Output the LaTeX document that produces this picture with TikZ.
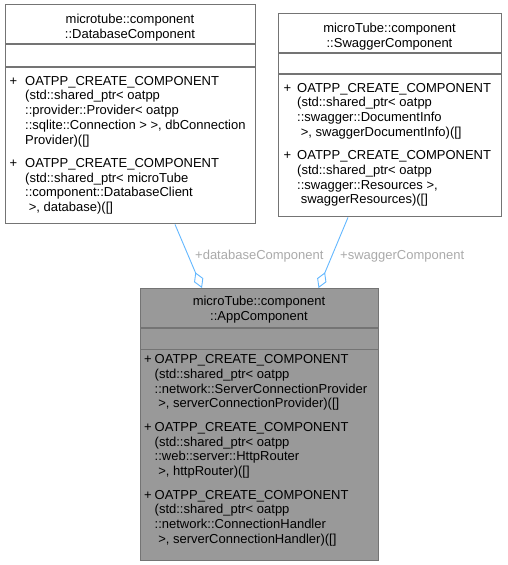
\documentclass[tikz,border=0pt]{standalone}
\usepackage{fontspec}
\setmainfont{Liberation Sans}
\usetikzlibrary{arrows.meta,calc}
\definecolor{edgeblue}{HTML}{63B8FF}
\definecolor{boxborder}{HTML}{747474}
\definecolor{appfill}{HTML}{999999}
\definecolor{lblgray}{HTML}{AAAAAA}
\newcommand\memblock[4]{%
  \foreach \t [count=\i from 0] in {#4} {\node[mtext] (#1-\i) at (#2, #3+\i*14.8) {\t};}}
\begin{document}
\begin{tikzpicture}[x=1pt,y=-1pt,
  mtext/.style={font=\fontsize{13}{14.8}\selectfont, anchor=base west, inner sep=0pt, text=black},
  ttext/.style={font=\fontsize{13}{14.8}\selectfont, anchor=base, inner sep=0pt, text=black},
  umlbox/.style={draw=boxborder, line width=1.4pt, rectangle, anchor=north west, inner sep=0pt},
  sepline/.style={draw=boxborder, line width=1.4pt},
  agg/.style={draw=edgeblue, line width=0.9pt, -{Diamond[open, length=17pt, width=10pt, line width=0.9pt]}},
  elabel/.style={font=\fontsize{13}{14.8}\selectfont, anchor=base west, inner sep=0pt, text=lblgray}]
\useasboundingbox[fill=white] (0,0) rectangle (507,565);

% DatabaseComponent
\node[umlbox, fill=white, minimum width=250pt, minimum height=219pt] (db) at (5,4) {};
\node[ttext] (dbt1) at (130,23.5) {microtube::component};
\node[ttext] (dbt2) at (130,38) {::DatabaseComponent};
\node[mtext] (dbp1) at (9.5,85) {+};
\memblock{dbm1}{25}{85}{{OATPP\_CREATE\_COMPONENT},{(std::shared\_ptr< oatpp},{::provider::Provider< oatpp},{::sqlite::Connection > >, dbConnection},{Provider)([]}}
\node[mtext] (dbp2) at (9.5,167.2) {+};
\memblock{dbm2}{25}{167.2}{{OATPP\_CREATE\_COMPONENT},{(std::shared\_ptr< microTube},{::component::DatabaseClient},{\ >, database)([]}}
\draw[sepline] (5,44) -- (255,44);
\draw[sepline] (5,67) -- (255,67);

% SwaggerComponent
\node[umlbox, fill=white, minimum width=223pt, minimum height=203pt] (sw) at (278,13) {};
\node[ttext] (swt1) at (389.5,32.5) {microTube::component};
\node[ttext] (swt2) at (389.5,47) {::SwaggerComponent};
\node[mtext] (swp1) at (283.5,92) {+};
\memblock{swm1}{297}{92}{{OATPP\_CREATE\_COMPONENT},{(std::shared\_ptr< oatpp},{::swagger::DocumentInfo},{\ >, swaggerDocumentInfo)([]}}
\node[mtext] (swp2) at (283.5,159.4) {+};
\memblock{swm2}{297}{159.4}{{OATPP\_CREATE\_COMPONENT},{(std::shared\_ptr< oatpp},{::swagger::Resources >,},{\ swaggerResources)([]}}
\draw[sepline] (278,53) -- (501,53);
\draw[sepline] (278,74) -- (501,74);

% AppComponent
\node[umlbox, fill=appfill, minimum width=238pt, minimum height=272pt] (app) at (140,288) {};
\node[ttext] (appt1) at (259,305) {microTube::component};
\node[ttext] (appt2) at (259,320.5) {::AppComponent};
\node[mtext] (appp1) at (144,363.5) {+};
\memblock{appm1}{154.5}{363.5}{{OATPP\_CREATE\_COMPONENT},{(std::shared\_ptr< oatpp},{::network::ServerConnectionProvider},{\ >, serverConnectionProvider)([]}}
\node[mtext] (appp2) at (144,431.3) {+};
\memblock{appm2}{154.5}{431.3}{{OATPP\_CREATE\_COMPONENT},{(std::shared\_ptr< oatpp},{::web::server::HttpRouter},{\ >, httpRouter)([]}}
\node[mtext] (appp3) at (144,499.1) {+};
\memblock{appm3}{154.5}{499.1}{{OATPP\_CREATE\_COMPONENT},{(std::shared\_ptr< oatpp},{::network::ConnectionHandler},{\ >, serverConnectionHandler)([]}}
\draw[sepline] (140,328) -- (378,328);
\draw[sepline] (140,349.5) -- (378,349.5);

% connectors
\draw[agg] ($(db.south west)+(170,0)$) -- ($(app.north west)+(62,0)$);
\draw[agg] ($(sw.south west)+(70,0)$) -- ($(app.north west)+(178.5,0)$);
\node[elabel] (l1) at (195,259) {+databaseComponent};
\node[elabel] (l2) at (340,259) {+swaggerComponent};
\end{tikzpicture}
\end{document}
